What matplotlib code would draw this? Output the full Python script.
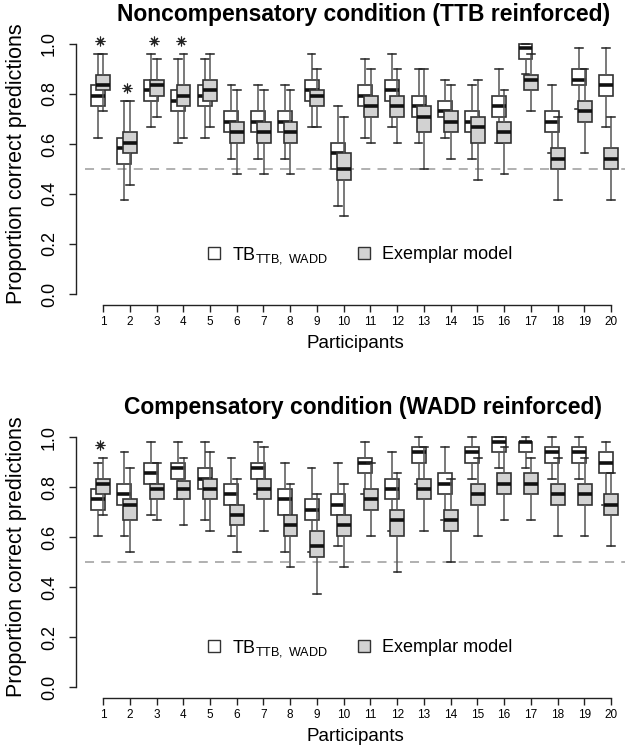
import matplotlib
matplotlib.use('Agg')
import matplotlib.pyplot as plt
from matplotlib.lines import Line2D
import numpy as np

plt.rcParams['font.family'] = ['Liberation Sans', 'DejaVu Sans']
plt.rcParams['mathtext.fontset'] = 'custom'
plt.rcParams['mathtext.rm'] = 'Liberation Sans'
plt.rcParams['mathtext.it'] = 'Liberation Sans:italic'

participants = list(range(1, 21))
titles = ['Noncompensatory condition (TTB reinforced)',
          'Compensatory condition (WADD reinforced)']
y_ticks = [0.0, 0.2, 0.4, 0.6, 0.8, 1.0]
y_ticklabels = ['0.0', '0.2', '0.4', '0.6', '0.8', '1.0']
legend_labels = [r'TB$_{\mathrm{TTB,\ WADD}}$', 'Exemplar model']
chance_level = 0.5

# ---- Noncompensatory condition: TB (white) ----
nc_tb_whislo = [0.625, 0.375, 0.668, 0.605, 0.625, 0.541, 0.541, 0.541, 0.668, 0.353,
                0.625, 0.668, 0.605, 0.625, 0.541, 0.605, 0.880, 0.563, 0.740, 0.668]
nc_tb_q1     = [0.752, 0.521, 0.772, 0.731, 0.752, 0.647, 0.647, 0.647, 0.772, 0.500,
                0.752, 0.772, 0.709, 0.709, 0.647, 0.709, 0.940, 0.647, 0.836, 0.793]
nc_tb_med    = [0.793, 0.584, 0.815, 0.772, 0.793, 0.688, 0.688, 0.688, 0.815, 0.563,
                0.793, 0.815, 0.752, 0.731, 0.688, 0.752, 0.983, 0.688, 0.857, 0.836]
nc_tb_q3     = [0.836, 0.625, 0.857, 0.815, 0.836, 0.731, 0.731, 0.731, 0.857, 0.605,
                0.836, 0.857, 0.793, 0.772, 0.731, 0.793, 1.000, 0.731, 0.899, 0.877]
nc_tb_whishi = [0.961, 0.772, 0.961, 0.940, 0.940, 0.836, 0.836, 0.836, 0.961, 0.752,
                0.940, 0.961, 0.899, 0.857, 0.836, 0.899, 1.000, 0.836, 0.983, 0.983]

# ---- Noncompensatory condition: Exemplar model (gray) ----
nc_ex_whislo = [0.731, 0.437, 0.709, 0.625, 0.668, 0.479, 0.479, 0.479, 0.668, 0.312,
                0.605, 0.605, 0.500, 0.541, 0.457, 0.479, 0.731, 0.375, 0.563, 0.375]
nc_ex_q1     = [0.815, 0.563, 0.793, 0.752, 0.772, 0.605, 0.605, 0.605, 0.752, 0.457,
                0.709, 0.709, 0.647, 0.647, 0.605, 0.605, 0.815, 0.500, 0.688, 0.500]
nc_ex_med    = [0.836, 0.605, 0.836, 0.793, 0.815, 0.647, 0.647, 0.647, 0.793, 0.500,
                0.752, 0.752, 0.709, 0.688, 0.668, 0.647, 0.857, 0.541, 0.731, 0.541]
nc_ex_q3     = [0.877, 0.647, 0.857, 0.836, 0.857, 0.688, 0.688, 0.688, 0.815, 0.563,
                0.793, 0.793, 0.752, 0.731, 0.709, 0.688, 0.877, 0.584, 0.772, 0.584]
nc_ex_whishi = [0.961, 0.772, 0.940, 0.961, 0.961, 0.815, 0.815, 0.815, 0.899, 0.709,
                0.899, 0.899, 0.899, 0.836, 0.857, 0.815, 0.961, 0.709, 0.899, 0.709]

# ---- Compensatory condition: TB (white) ----
c_tb_whislo = [0.604, 0.604, 0.688, 0.751, 0.667, 0.604, 0.771, 0.541, 0.541, 0.563,
               0.771, 0.625, 0.813, 0.667, 0.833, 0.875, 0.876, 0.833, 0.833, 0.729]
c_tb_q1     = [0.708, 0.729, 0.813, 0.833, 0.792, 0.729, 0.833, 0.688, 0.667, 0.688,
               0.855, 0.751, 0.896, 0.771, 0.896, 0.939, 0.939, 0.896, 0.896, 0.855]
c_tb_med    = [0.751, 0.771, 0.855, 0.876, 0.833, 0.771, 0.876, 0.751, 0.708, 0.729,
               0.896, 0.792, 0.939, 0.813, 0.939, 0.980, 0.980, 0.939, 0.939, 0.896]
c_tb_q3     = [0.792, 0.813, 0.896, 0.896, 0.876, 0.813, 0.896, 0.792, 0.751, 0.771,
               0.917, 0.833, 0.959, 0.855, 0.959, 1.000, 0.980, 0.959, 0.959, 0.939]
c_tb_whishi = [0.896, 0.939, 0.980, 0.980, 0.980, 0.917, 0.980, 0.896, 0.876, 0.896,
               0.980, 0.939, 1.000, 0.959, 1.000, 1.000, 1.000, 1.000, 1.000, 0.980]

# ---- Compensatory condition: Exemplar model (gray) ----
c_ex_whislo = [0.688, 0.541, 0.667, 0.647, 0.625, 0.541, 0.625, 0.479, 0.373, 0.479,
               0.604, 0.459, 0.625, 0.500, 0.604, 0.667, 0.667, 0.604, 0.604, 0.563]
c_ex_q1     = [0.771, 0.667, 0.751, 0.751, 0.751, 0.647, 0.751, 0.604, 0.521, 0.604,
               0.708, 0.604, 0.751, 0.625, 0.729, 0.771, 0.771, 0.729, 0.729, 0.688]
c_ex_med    = [0.813, 0.729, 0.792, 0.792, 0.792, 0.688, 0.792, 0.647, 0.563, 0.647,
               0.751, 0.667, 0.792, 0.667, 0.771, 0.813, 0.813, 0.771, 0.771, 0.729]
c_ex_q3     = [0.833, 0.751, 0.813, 0.823, 0.833, 0.729, 0.833, 0.688, 0.625, 0.688,
               0.792, 0.708, 0.833, 0.708, 0.813, 0.855, 0.855, 0.813, 0.813, 0.771]
c_ex_whishi = [0.917, 0.876, 0.896, 0.917, 0.939, 0.833, 0.959, 0.813, 0.771, 0.813,
               0.896, 0.855, 0.959, 0.833, 0.917, 0.959, 0.917, 0.917, 0.917, 0.855]

# participants with a significant difference (asterisk)
nc_significant = [1, 2, 3, 4]
c_significant = [1]


def make_stats(lo, q1, med, q3, hi):
    return [dict(whislo=a, q1=b, med=c, q3=d, whishi=e, fliers=[])
            for a, b, c, d, e in zip(lo, q1, med, q3, hi)]


panels = [
    (titles[0],
     make_stats(nc_tb_whislo, nc_tb_q1, nc_tb_med, nc_tb_q3, nc_tb_whishi),
     make_stats(nc_ex_whislo, nc_ex_q1, nc_ex_med, nc_ex_q3, nc_ex_whishi),
     nc_significant),
    (titles[1],
     make_stats(c_tb_whislo, c_tb_q1, c_tb_med, c_tb_q3, c_tb_whishi),
     make_stats(c_ex_whislo, c_ex_q1, c_ex_med, c_ex_q3, c_ex_whishi),
     c_significant),
]

W, H = 628, 751
fig = plt.figure(figsize=(W / 100, H / 100), dpi=100)

edge = '#333333'
gray_fill = '#d2d2d2'
pos = np.array(participants, dtype=float)
off_white, off_gray = -0.2, 0.01
box_w, cap_w = 0.52, 0.29

for k, (title, st_tb, st_ex, sig) in enumerate(panels):
    dy = 393 * k
    left, right, top, bottom = 85, 625, 28 + dy, 300 + dy
    ax = fig.add_axes([left / W, 1 - bottom / H, (right - left) / W, (bottom - top) / H])
    ax.set_xlim(0.326, 20.52)
    ax.set_ylim(-0.024, 1.064)

    ax.axhline(chance_level, color='#aaaaaa', ls=(0, (5, 4)), lw=1.3, zorder=1)

    common = dict(widths=box_w, capwidths=cap_w, patch_artist=True, showfliers=False,
                  manage_ticks=False,
                  medianprops=dict(color='#111111', lw=2.6, solid_capstyle='butt'),
                  whiskerprops=dict(color='#555555', lw=1.1),
                  capprops=dict(color='#222222', lw=1.1))
    ax.bxp(st_tb, positions=pos + off_white, zorder=2,
           boxprops=dict(facecolor='white', edgecolor=edge, lw=1.2), **common)
    ax.bxp(st_ex, positions=pos + off_gray, zorder=3,
           boxprops=dict(facecolor=gray_fill, edgecolor=edge, lw=1.2), **common)

    for p in sig:
        i = p - 1
        yv = max(st_tb[i]['whishi'], st_ex[i]['whishi']) + 0.05
        ax.plot([p - 0.1], [yv], marker=(8, 2, 0), ms=7, mew=0.8, color='#222222',
                ls='', zorder=4)

    for s in ['top', 'right']:
        ax.spines[s].set_visible(False)
    ax.spines['left'].set_position(('outward', 6.5))
    ax.spines['bottom'].set_position(('outward', 3.6))
    ax.spines['left'].set_bounds(0, 1)
    ax.spines['bottom'].set_bounds(1, 20)
    for s in ['left', 'bottom']:
        ax.spines[s].set_color('#222222')
        ax.spines[s].set_linewidth(1.0)

    ax.set_yticks(y_ticks)
    ax.set_yticklabels(y_ticklabels, rotation=90, va='center', fontsize=13)
    ax.set_xticks(participants)
    ax.set_xticklabels([str(p) for p in participants], fontsize=8.5)
    ax.tick_params(axis='both', direction='out', length=5, width=1.0, color='#222222')
    ax.tick_params(axis='y', pad=8)
    ax.tick_params(axis='x', pad=3)

    ax.set_ylabel('Proportion correct predictions', fontsize=15.5)
    ax.yaxis.set_label_coords(-0.107, 0.5)
    ax.set_xlabel('Participants', fontsize=13.5)
    ax.xaxis.set_label_coords(0.5, -0.129)

    ax.text(0.515, 1.048, title, transform=ax.transAxes, ha='center', va='center',
            fontsize=16.5, fontweight='bold')

    handles = [Line2D([], [], marker='s', ls='', ms=9, mfc='white', mec=edge, mew=1.0),
               Line2D([], [], marker='s', ls='', ms=9, mfc=gray_fill, mec=edge, mew=1.0)]
    ax.legend(handles, legend_labels, loc='center left', bbox_to_anchor=(0.205, 0.165),
              ncol=2, frameon=False, fontsize=13, handletextpad=0.5, columnspacing=1.5,
              borderpad=0, handlelength=1.0)

fig.savefig('out.png', dpi=100)
